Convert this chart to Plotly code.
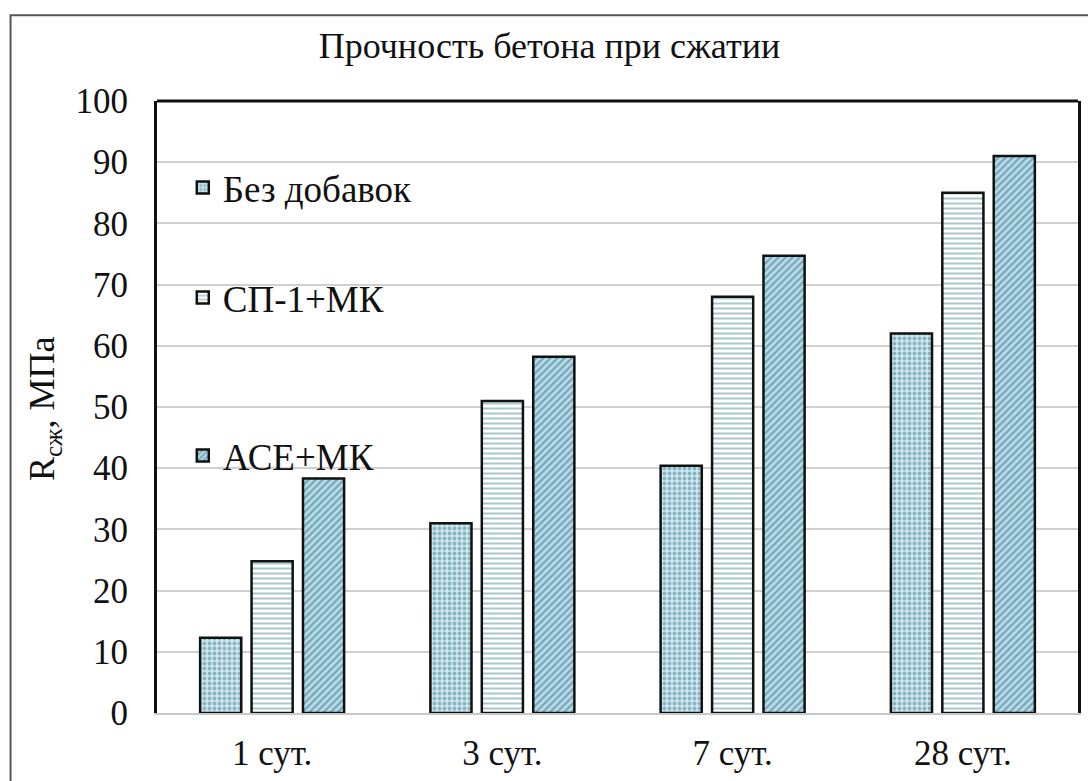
import plotly.graph_objects as go

# Compressive strength of concrete by curing age
categories = ["1 сут.", "3 сут.", "7 сут.", "28 сут."]
series_names = ["Без добавок", "СП-1+МК", "АСЕ+МК"]
no_additive = [12.3, 31.0, 40.4, 62.0]
sp1_mk = [24.8, 51.0, 68.0, 85.0]
ace_mk = [38.3, 58.2, 74.7, 91.0]
y_ticks = [0, 10, 20, 30, 40, 50, 60, 70, 80, 90, 100]

FONT = "Liberation Serif"
INK = "#111111"

styles = [
    dict(shape=".", bg="#cfe6ef", fg="#3f8294", size=5, solidity=0.45),
    dict(shape="-", bg="#ffffff", fg="#4f8f9c", size=5, solidity=0.4),
    dict(shape="/", bg="#b9dae8", fg="#2f7487", size=5, solidity=0.45),
]
values = [no_additive, sp1_mk, ace_mk]
legend_ids = ["legend", "legend2", "legend3"]

fig = go.Figure()
for name, vals, st, lg in zip(series_names, values, styles, legend_ids):
    fig.add_trace(go.Bar(
        x=categories, y=vals, name=name, legend=lg, showlegend=True,
        marker=dict(
            color=st["bg"],
            line=dict(color=INK, width=2.5),
            pattern=dict(shape=st["shape"], fgcolor=st["fg"], bgcolor=st["bg"],
                         size=st["size"], solidity=st["solidity"]),
        ),
    ))

legend_common = dict(
    font=dict(family=FONT, size=37, color=INK),
    bgcolor="rgba(0,0,0,0)", xanchor="left", yanchor="middle", x=0.028,
    itemwidth=30,
)

fig.update_layout(
    width=1088, height=781,
    margin=dict(l=157, r=7, t=101, b=68),
    paper_bgcolor="white", plot_bgcolor="white",
    showlegend=True,
    barmode="group", bargap=0.33, bargroupgap=0.2,
    font=dict(family=FONT, size=35, color=INK),
    title=dict(text="Прочность бетона при сжатии", x=0.505, xanchor="center",
               y=0.942, yanchor="middle",
               font=dict(family=FONT, size=36, color=INK)),
    legend=dict(y=0.858, **legend_common),
    legend2=dict(y=0.678, **legend_common),
    legend3=dict(y=0.42, **legend_common),
    xaxis=dict(
        showline=True, linecolor="#c8c8c8", linewidth=2,
        ticks="", ticklabelstandoff=8,
        tickfont=dict(family=FONT, size=35, color=INK),
        showgrid=False,
    ),
    yaxis=dict(
        range=[0, 100], tickvals=y_ticks, ticks="",
        ticklabelstandoff=19,
        showgrid=True, gridcolor="#d0d0d0", gridwidth=2,
        showline=True, linecolor=INK, linewidth=3, mirror=True,
        zeroline=False,
        tickfont=dict(family=FONT, size=35, color=INK),
    ),
    annotations=[
        dict(text="R<sub>сж</sub>, МПа", xref="paper", yref="paper",
             x=-0.1213, y=0.497, xanchor="center", yanchor="middle",
             textangle=-90, showarrow=False,
             font=dict(family=FONT, size=36, color=INK)),
    ],
    shapes=[
        # top edge of the plot frame
        dict(type="line", xref="paper", yref="paper", x0=0, x1=1, y0=1, y1=1,
             line=dict(color=INK, width=3)),
        # outer border around the whole figure
        dict(type="rect", xref="paper", yref="paper",
             x0=-0.159, x1=1.02, y0=-0.13, y1=1.14,
             line=dict(color="#555555", width=2)),
    ],
)

fig.write_html("out.html")
